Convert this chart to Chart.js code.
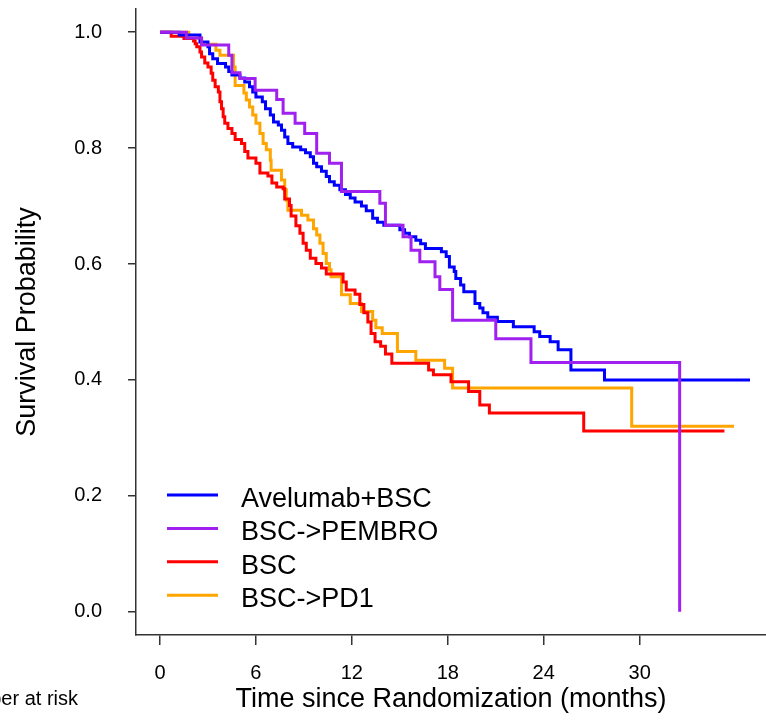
<!DOCTYPE html>
<html>
<head>
<meta charset="utf-8">
<script src="https://cdn.jsdelivr.net/npm/chart.js@4/dist/chart.umd.min.js"></script>
<style>
html,body{margin:0;padding:0;background:#fff;}
#wrap{width:766px;height:721px;}
</style>
</head>
<body>
<div id="wrap"><canvas id="c" width="766" height="721"></canvas></div>
<script>
// ---- data ----
const seriesLabels = ['Avelumab+BSC', 'BSC->PEMBRO', 'BSC', 'BSC->PD1'];
const seriesColors = ['#0000FF', '#A020F0', '#FF0000', '#FFA500'];

const avelumabTime = [0,1.2,2.5,3.0,3.1,3.3,3.6,4.1,4.3,4.5,5.0,5.3,5.6,5.8,6.0,6.4,6.6,6.9,7.1,7.4,7.6,7.8,8.0,8.3,8.8,9.1,9.4,9.6,9.8,10.1,10.4,10.6,10.9,11.25,11.6,11.9,12.2,12.6,12.9,13.3,13.6,14.0,15.0,15.3,15.6,16.0,16.3,16.6,17.6,17.9,18.1,18.4,18.5,18.8,19.0,19.7,20.0,20.2,20.5,21.1,22.1,23.4,23.75,24.4,24.9,25.7,27.8,36.9];
const avelumabSurv = [1,0.995,0.983,0.975,0.963,0.954,0.946,0.940,0.932,0.926,0.921,0.914,0.906,0.897,0.888,0.880,0.868,0.857,0.845,0.840,0.831,0.819,0.808,0.802,0.797,0.792,0.785,0.774,0.768,0.760,0.751,0.742,0.736,0.728,0.720,0.714,0.707,0.700,0.692,0.679,0.672,0.667,0.659,0.653,0.647,0.641,0.635,0.627,0.621,0.613,0.595,0.587,0.575,0.564,0.552,0.532,0.524,0.516,0.508,0.501,0.492,0.483,0.475,0.466,0.452,0.417,0.400,0.400];

const pembroTime = [0,1.65,2.6,4.3,4.5,5.0,5.95,7.3,7.7,8.45,9.05,9.8,10.6,11.35,13.75,14.1,15.2,15.7,16.25,17.2,17.5,18.3,21.0,23.2,32.5];
const pembroSurv = [1,0.99,0.978,0.96,0.93,0.92,0.90,0.884,0.86,0.843,0.825,0.791,0.774,0.725,0.705,0.667,0.647,0.624,0.604,0.578,0.556,0.503,0.471,0.43,0];

const bscTime = [0,0.7,1.5,2.1,2.2,2.3,2.5,2.6,2.8,3.0,3.2,3.3,3.45,3.65,3.75,3.85,3.95,4.05,4.25,4.5,4.7,5.1,5.3,5.5,6.0,6.25,6.75,7.0,7.3,7.7,7.8,8.1,8.2,8.5,8.75,8.95,9.15,9.4,9.75,10.1,10.4,11.45,11.65,12.2,12.5,12.75,13.0,13.2,13.45,13.8,14.1,14.5,16.8,17.1,18.2,19.3,20.0,20.6,26.5,35.3];
const bscSurv = [1,0.993,0.989,0.985,0.98,0.975,0.966,0.957,0.947,0.94,0.929,0.917,0.906,0.897,0.88,0.868,0.854,0.843,0.834,0.825,0.815,0.808,0.794,0.783,0.774,0.757,0.752,0.740,0.733,0.730,0.712,0.701,0.683,0.666,0.653,0.636,0.624,0.610,0.601,0.593,0.583,0.569,0.555,0.548,0.530,0.516,0.500,0.480,0.466,0.458,0.445,0.429,0.417,0.409,0.397,0.38,0.357,0.343,0.312,0.312];

const pd1Time = [0,1.8,2.6,3.5,3.75,4.6,4.7,5.25,5.4,5.6,5.8,6.0,6.25,6.45,6.65,6.9,6.95,7.6,7.8,7.9,8.0,8.85,9.25,9.6,9.8,10.0,10.2,10.4,10.6,10.7,11.35,11.9,12.6,13.3,13.5,13.9,14.85,16.0,17.8,18.3,29.5,35.9];
const pd1Surv = [1,0.99,0.979,0.969,0.96,0.94,0.908,0.895,0.883,0.871,0.857,0.843,0.825,0.808,0.797,0.779,0.762,0.745,0.728,0.71,0.693,0.684,0.676,0.661,0.65,0.636,0.618,0.601,0.59,0.578,0.547,0.532,0.518,0.503,0.49,0.48,0.449,0.434,0.42,0.386,0.32,0.32];

const xTicks = [0, 6, 12, 18, 24, 30];
const yTicks = [0, 0.2, 0.4, 0.6, 0.8, 1.0];

const xTitle = 'Time since Randomization (months)';
const yTitle = 'Survival Probability';
const riskLabel = 'Number at risk';

// ---- build ----
const FONT = "'Liberation Sans', Arial, Helvetica, sans-serif";
const times = [avelumabTime, pembroTime, bscTime, pd1Time];
const survs = [avelumabSurv, pembroSurv, bscSurv, pd1Surv];
const drawOrder = [1, 0, 2, 3]; // lower = drawn on top

const datasets = seriesLabels.map((lab, i) => ({
  label: lab,
  data: times[i].map((t, k) => ({x: t, y: survs[i][k]})),
  borderColor: seriesColors[i],
  backgroundColor: seriesColors[i],
  borderWidth: 3,
  stepped: true,
  pointRadius: 0,
  fill: false,
  order: drawOrder[i]
}));

const kmLegend = {
  id: 'kmLegend',
  afterDraw(chart) {
    const ctx = chart.ctx;
    const a = chart.chartArea;
    ctx.save();
    ctx.font = '27px ' + FONT;
    ctx.textAlign = 'left';
    ctx.textBaseline = 'alphabetic';
    chart.data.datasets.forEach((ds, i) => {
      const base = 507 + i * 33.4;
      const ly = base - 12;
      ctx.strokeStyle = ds.borderColor;
      ctx.lineWidth = 3;
      ctx.beginPath();
      ctx.moveTo(a.left + 31, ly);
      ctx.lineTo(a.left + 82, ly);
      ctx.stroke();
      ctx.fillStyle = '#000';
      ctx.fillText(ds.label, a.left + 105, base);
    });
    ctx.font = '20px ' + FONT;
    ctx.textAlign = 'right';
    ctx.fillText(riskLabel, 78, 705);
    ctx.restore();
  }
};

new Chart(document.getElementById('c'), {
  type: 'line',
  data: {datasets},
  plugins: [kmLegend],
  options: {
    responsive: false,
    animation: false,
    devicePixelRatio: 1,
    layout: {padding: {top: 9, right: 0, bottom: 0, left: 0}},
    plugins: {legend: {display: false}, tooltip: {enabled: false}},
    scales: {
      x: {
        type: 'linear',
        min: -1.5,
        max: 37.9,
        afterBuildTicks: s => { s.ticks = xTicks.map(v => ({value: v})); },
        afterFit: s => { s.height = 86; s.paddingLeft = 0; s.paddingRight = 0; },
        ticks: {
          font: {family: FONT, size: 20}, color: '#000', padding: 16,
          maxRotation: 0, autoSkip: false, callback: v => String(v)
        },
        grid: {drawOnChartArea: false, drawTicks: true, tickLength: 10, color: '#333', lineWidth: 1.5},
        border: {display: true, color: '#333', width: 1.5},
        title: {display: true, text: xTitle, color: '#000', font: {family: FONT, size: 27}, padding: {top: 5, bottom: 5}}
      },
      y: {
        type: 'linear',
        min: -0.04,
        max: 1.04,
        afterBuildTicks: s => { s.ticks = yTicks.map(v => ({value: v})); },
        afterFit: s => { s.width = 136; s.paddingTop = 0; s.paddingBottom = 0; },
        ticks: {
          font: {family: FONT, size: 20}, color: '#000', padding: 26,
          autoSkip: false, callback: v => Number(v).toFixed(1)
        },
        grid: {drawOnChartArea: false, drawTicks: true, tickLength: 8, color: '#333', lineWidth: 1.5},
        border: {display: true, color: '#333', width: 1.5},
        title: {display: true, text: yTitle, color: '#000', font: {family: FONT, size: 27}, padding: {top: 11, bottom: 11}}
      }
    }
  }
});
</script>
</body>
</html>
